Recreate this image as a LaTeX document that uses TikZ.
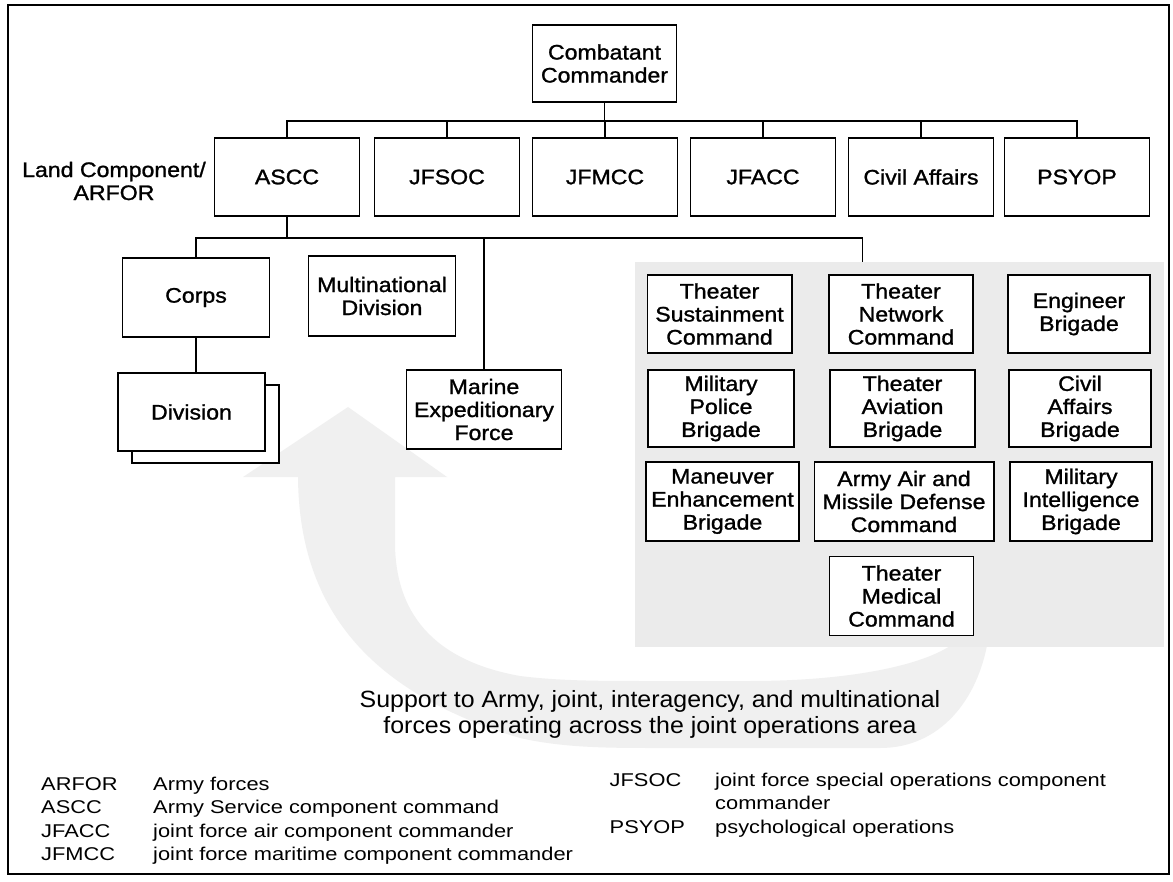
\documentclass[tikz,border=0pt]{standalone}
\usepackage{fontspec}
\setmainfont{Liberation Sans}
\newfontfamily\boxfont[FakeStretch=1.1,FakeBold=1.2]{Liberation Sans}
\newfontfamily\legfont[FakeStretch=1.18]{Liberation Sans}
\newfontfamily\supfont[FakeStretch=1.06]{Liberation Sans}
\begin{document}
\begin{tikzpicture}[x=1pt,y=-1pt,
  unit/.style={draw, line width=1.5pt, fill=white, align=center, inner sep=0pt,
    minimum width=145pt, minimum height=78pt,
    font=\boxfont\fontsize{21}{23}\selectfont},
  conn/.style={line width=1.3pt},
  legtext/.style={anchor=base west, inner sep=0pt, font=\legfont\fontsize{18.5}{23.5}\selectfont},
  suptext/.style={anchor=base, inner sep=0pt, font=\supfont\fontsize{23.5}{27}\selectfont},
  band/.style={fill=black!6},
  groupbg/.style={fill=black!8, inner sep=0pt}]
\useasboundingbox (0,0) rectangle (1173,882);
\fill[white] (0,0) rectangle (1173,882);

% curved support arrow
\fill[band] (348,407) -- (447,477) -- (395,477) -- (395,545)
  .. controls (396,610) and (430,660) .. (520,676)
  .. controls (560,681) and (600,681) .. (650,681)
  -- (750,681)
  .. controls (850,681) and (930,665) .. (958,640)
  -- (970,600) -- (990,600) -- (988,640)
  .. controls (978,700) and (940,748) .. (880,748)
  -- (650,748)
  .. controls (600,748) and (560,747) .. (520,738)
  .. controls (360,690) and (299,600) .. (298,477)
  -- (243,477) -- cycle;

% support group background
\node[groupbg, minimum width=529pt, minimum height=385pt] (group) at (899.5,454.5) {};

% top levels
\node[unit, minimum width=144pt, minimum height=77pt] (cc) at (604.5,63.5) {Combatant\\Commander};
\node[unit] (ascc)  at (287,177) {ASCC};
\node[unit] (jfsoc) at (447,177) {JFSOC};
\node[unit] (jfmcc) at (605,177) {JFMCC};
\node[unit] (jfacc) at (763,177) {JFACC};
\node[unit] (civil) at (921,177) {Civil Affairs};
\node[unit] (psyop) at (1077,177) {PSYOP};
\node[align=center, inner sep=0pt, font=\boxfont\fontsize{21}{23}\selectfont] (land) at (114,181) {Land Component/\\ARFOR};

% army units
\node[unit, minimum width=147pt, minimum height=79pt] (corps) at (196,297.5) {Corps};
\node[unit, minimum width=147pt, minimum height=80pt] (mnd) at (382,296) {Multinational\\Division};
\node[unit, minimum width=147pt] (divshadow) at (205.5,424) {};
\node[unit, minimum width=147pt] (division) at (191.5,412) {Division};
\node[unit, minimum width=155pt, minimum height=79pt] (marine) at (484,409.5) {Marine\\Expeditionary\\Force};

% theater units
\node[unit, minimum width=144.5pt] (tsc) at (719.5,314) {Theater\\Sustainment\\Command};
\node[unit, minimum width=144pt] (tnc) at (901,314) {Theater\\Network\\Command};
\node[unit, minimum width=142pt] (eng) at (1079,314) {Engineer\\Brigade};
\node[unit, minimum width=146pt, minimum height=77pt] (mp) at (721,408.5) {Military\\Police\\Brigade};
\node[unit, minimum width=145pt, minimum height=77pt] (tab) at (902.5,408.5) {Theater\\Aviation\\Brigade};
\node[unit, minimum width=142pt, minimum height=77pt] (cab) at (1080,408.5) {Civil\\Affairs\\Brigade};
\node[unit, minimum width=153pt, minimum height=79pt] (meb) at (722.5,501.5) {Maneuver\\Enhancement\\Brigade};
\node[unit, minimum width=179.5pt, minimum height=79pt] (aamdc) at (904,501.5) {Army Air and\\Missile Defense\\Command};
\node[unit, minimum width=142pt, minimum height=79pt] (mib) at (1081,501.5) {Military\\Intelligence\\Brigade};
\node[unit, minimum width=144pt, minimum height=79pt] (tmc) at (901.5,596) {Theater\\Medical\\Command};

% connectors
\coordinate (bus1) at (0,121);
\coordinate (bus2) at (0,238);
\coordinate (gin) at ([xshift=228pt]group.north west);
\draw[conn] (cc.south) -- (cc.south |- bus1);
\draw[conn] (ascc.north) -- (ascc.north |- bus1) -- (psyop.north |- bus1) -- (psyop.north);
\foreach \n in {jfsoc,jfmcc,jfacc,civil} \draw[conn] (\n.north) -- (\n.north |- bus1);
\draw[conn] (ascc.south) -- (ascc.south |- bus2);
\draw[conn] (corps.north) -- (corps.north |- bus2) -- (gin |- bus2) -- (gin);
\draw[conn] (marine.north) -- (marine.north |- bus2);
\draw[conn] (corps.south) -- (corps.south |- division.north);

% support caption
\node[suptext] (sup1) at (650,707) {Support to Army, joint, interagency, and multinational};
\node[suptext] (sup2) at (650,733) {forces operating across the joint operations area};

% legend
\node[legtext] (l1a) at (41,790) {ARFOR};
\node[legtext] (l1b) at (153,790) {Army forces};
\node[legtext] (l2a) at (41,813.5) {ASCC};
\node[legtext] (l2b) at (153,813.5) {Army Service component command};
\node[legtext] (l3a) at (41,837) {JFACC};
\node[legtext] (l3b) at (153,837) {joint force air component commander};
\node[legtext] (l4a) at (41,860.5) {JFMCC};
\node[legtext] (l4b) at (153,860.5) {joint force maritime component commander};
\node[legtext] (r1a) at (609.5,786) {JFSOC};
\node[legtext] (r1b) at (715,786) {joint force special operations component};
\node[legtext] (r1c) at (715,809.5) {commander};
\node[legtext] (r2a) at (609.5,833) {PSYOP};
\node[legtext] (r2b) at (715,833) {psychological operations};

% outer frame
\draw[line width=1.8pt] (8,5) rectangle (1169,874);
\end{tikzpicture}
\end{document}
